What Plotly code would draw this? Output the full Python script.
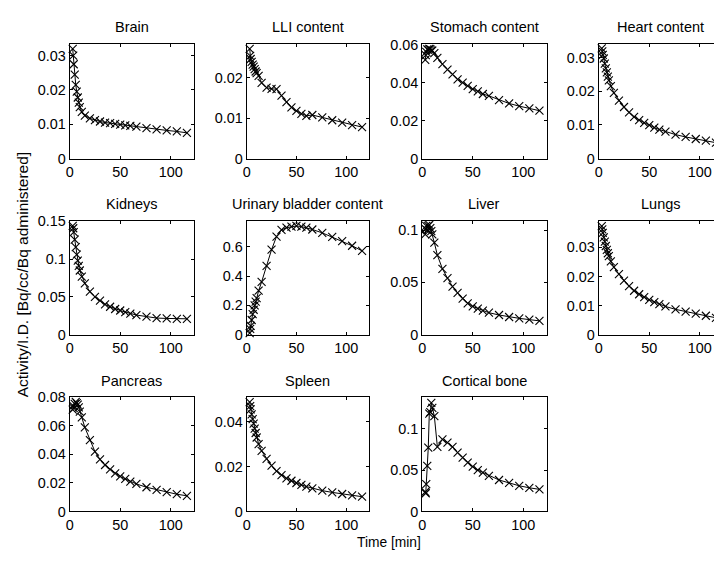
import plotly.graph_objects as go

# ---- data ----
time_min = [3, 3.5, 4, 5, 6, 7, 8, 9, 10, 12, 15, 20, 25, 30, 35, 40, 45, 50, 55, 60, 66, 76, 86, 96, 106, 116]

organs = ["Brain", "LLI content", "Stomach content", "Heart content",
          "Kidneys", "Urinary bladder content", "Liver", "Lungs",
          "Pancreas", "Spleen", "Cortical bone"]

brain = [0.0320, 0.0300, 0.0275, 0.0245, 0.0215, 0.0195, 0.0178, 0.0163, 0.0150, 0.0136, 0.0125, 0.0117, 0.0112,
         0.0108, 0.0105, 0.0103, 0.0101, 0.0099, 0.0097, 0.0095, 0.0093, 0.0089, 0.0085, 0.0082, 0.0079, 0.0075]
lli = [0.0272, 0.0255, 0.0247, 0.0240, 0.0233, 0.0228, 0.0222, 0.0216, 0.0212, 0.0205, 0.0188, 0.0176, 0.0173,
       0.0172, 0.0156, 0.0140, 0.0127, 0.0118, 0.0111, 0.0106, 0.0108, 0.0102, 0.0095, 0.0089, 0.0083, 0.0078]
stomach = [0.0520, 0.0545, 0.0562, 0.0575, 0.0572, 0.0578, 0.0576, 0.0570, 0.0568, 0.0555, 0.0530, 0.0497, 0.0468,
           0.0443, 0.0417, 0.0400, 0.0383, 0.0366, 0.0354, 0.0340, 0.0330, 0.0308, 0.0290, 0.0276, 0.0264, 0.0252]
heart = [0.0327, 0.0318, 0.0308, 0.0297, 0.0282, 0.0268, 0.0256, 0.0243, 0.0232, 0.0215, 0.0195, 0.0172, 0.0153,
         0.0137, 0.0124, 0.0114, 0.0106, 0.0099, 0.0092, 0.0086, 0.0080, 0.0071, 0.0064, 0.0058, 0.0053, 0.0047]
kidneys = [0.144, 0.141, 0.136, 0.126, 0.116, 0.106, 0.098, 0.091, 0.085, 0.077, 0.068, 0.057, 0.050,
           0.045, 0.040, 0.037, 0.034, 0.032, 0.030, 0.028, 0.026, 0.024, 0.022, 0.0215, 0.021, 0.021]
bladder = [0.01, 0.04, 0.06, 0.10, 0.14, 0.17, 0.20, 0.225, 0.25, 0.30, 0.36, 0.47, 0.58,
           0.67, 0.715, 0.73, 0.737, 0.742, 0.738, 0.73, 0.718, 0.695, 0.667, 0.638, 0.607, 0.572]
liver = [0.096, 0.101, 0.104, 0.100, 0.104, 0.105, 0.102, 0.099, 0.096, 0.088, 0.076, 0.063, 0.054,
         0.046, 0.040, 0.0345, 0.030, 0.027, 0.025, 0.023, 0.021, 0.0188, 0.0169, 0.0156, 0.0144, 0.0132]
lungs = [0.0373, 0.0362, 0.0350, 0.0335, 0.0320, 0.0305, 0.0292, 0.0280, 0.0270, 0.0252, 0.0232, 0.0208, 0.0186,
         0.0167, 0.0151, 0.0139, 0.0129, 0.0120, 0.0112, 0.0105, 0.0097, 0.0087, 0.0079, 0.0072, 0.0065, 0.0058]
pancreas = [0.0715, 0.0740, 0.0725, 0.0755, 0.0768, 0.0760, 0.0750, 0.0730, 0.0700, 0.0660, 0.0590, 0.0500, 0.0420,
            0.0365, 0.0326, 0.0296, 0.0268, 0.0246, 0.0228, 0.0210, 0.0193, 0.0170, 0.0152, 0.0135, 0.0121, 0.0110]
spleen = [0.0488, 0.0470, 0.0455, 0.0433, 0.0412, 0.0392, 0.0370, 0.0350, 0.0330, 0.0300, 0.0270, 0.0235, 0.0205,
          0.0180, 0.0162, 0.0148, 0.0137, 0.0127, 0.0119, 0.0111, 0.0103, 0.0093, 0.0085, 0.0078, 0.0072, 0.0066]
cortical = [0.0235, 0.022, 0.033, 0.055, 0.077, 0.118, 0.120, 0.131, 0.125, 0.115, 0.078, 0.087, 0.083,
            0.078, 0.071, 0.065, 0.059, 0.054, 0.050, 0.047, 0.043, 0.038, 0.0345, 0.031, 0.0286, 0.0267]

series = [brain, lli, stomach, heart, kidneys, bladder, liver, lungs, pancreas, spleen, cortical]
y_dticks = [0.01, 0.01, 0.02, 0.01, 0.05, 0.2, 0.05, 0.01, 0.02, 0.02, 0.05]
y_tops = [0.0335, 0.0285, 0.0605, 0.0341, 0.151, 0.778, 0.109, 0.0392, 0.0802, 0.051, 0.138]

# ---- layout geometry (pixels) ----
W, H = 722, 562
col_x = [(58, 183), (236, 359), (412.5, 537.5), (590, 715)]
row_y = [(28.5, 146.7), (210.7, 328), (392.3, 510)]

fig = go.Figure()
annotations = []
font_family = "Liberation Sans, Arial, sans-serif"

for i, (name, vals) in enumerate(zip(organs, series)):
    r, c = divmod(i, 4)
    x0, x1 = col_x[c]
    y0, y1 = row_y[r]
    ax = "" if i == 0 else str(i + 1)
    fig.add_trace(go.Scatter(
        x=time_min, y=vals, mode="lines+markers",
        line=dict(color="black", width=1),
        marker=dict(symbol="x-thin", size=8, line=dict(color="black", width=1.1)),
        xaxis="x" + ax, yaxis="y" + ax, showlegend=False,
        cliponaxis=False,
    ))
    common = dict(showline=True, mirror="ticks", linecolor="black", linewidth=1,
                  ticks="inside", ticklen=3, tickcolor="black", showgrid=False,
                  zeroline=False, tickfont=dict(size=14.4, color="black", family=font_family))
    fig.layout["xaxis" + ax] = dict(domain=[x0 / W, x1 / W], range=[0, 123], dtick=50,
                                     anchor="y" + ax, **common)
    fig.layout["yaxis" + ax] = dict(domain=[1 - y1 / H, 1 - y0 / H], range=[0, y_tops[i]],
                                     dtick=y_dticks[i], anchor="x" + ax, **common)
    annotations.append(dict(text=name, x=(x0 + x1) / 2 / W, y=1 - (y0 - 17) / H,
                            xref="paper", yref="paper", showarrow=False,
                            font=dict(size=14.5, color="black", family=font_family),
                            xanchor="center", yanchor="middle"))

annotations.append(dict(text="Activity/I.D. [Bq/cc/Bq administered]", x=10 / W, y=1 - 266 / H,
                        xref="paper", yref="paper", showarrow=False, textangle=-90,
                        font=dict(size=15.5, color="black", family=font_family),
                        xanchor="center", yanchor="middle"))
annotations.append(dict(text="Time [min]", x=379 / W, y=1 - 542 / H,
                        xref="paper", yref="paper", showarrow=False,
                        font=dict(size=13.8, color="black", family=font_family),
                        xanchor="center", yanchor="middle"))

fig.update_layout(width=W, height=H, margin=dict(l=0, r=0, t=0, b=0),
                  paper_bgcolor="white", plot_bgcolor="white",
                  annotations=annotations, font=dict(family=font_family))

fig.write_html("out.html")
